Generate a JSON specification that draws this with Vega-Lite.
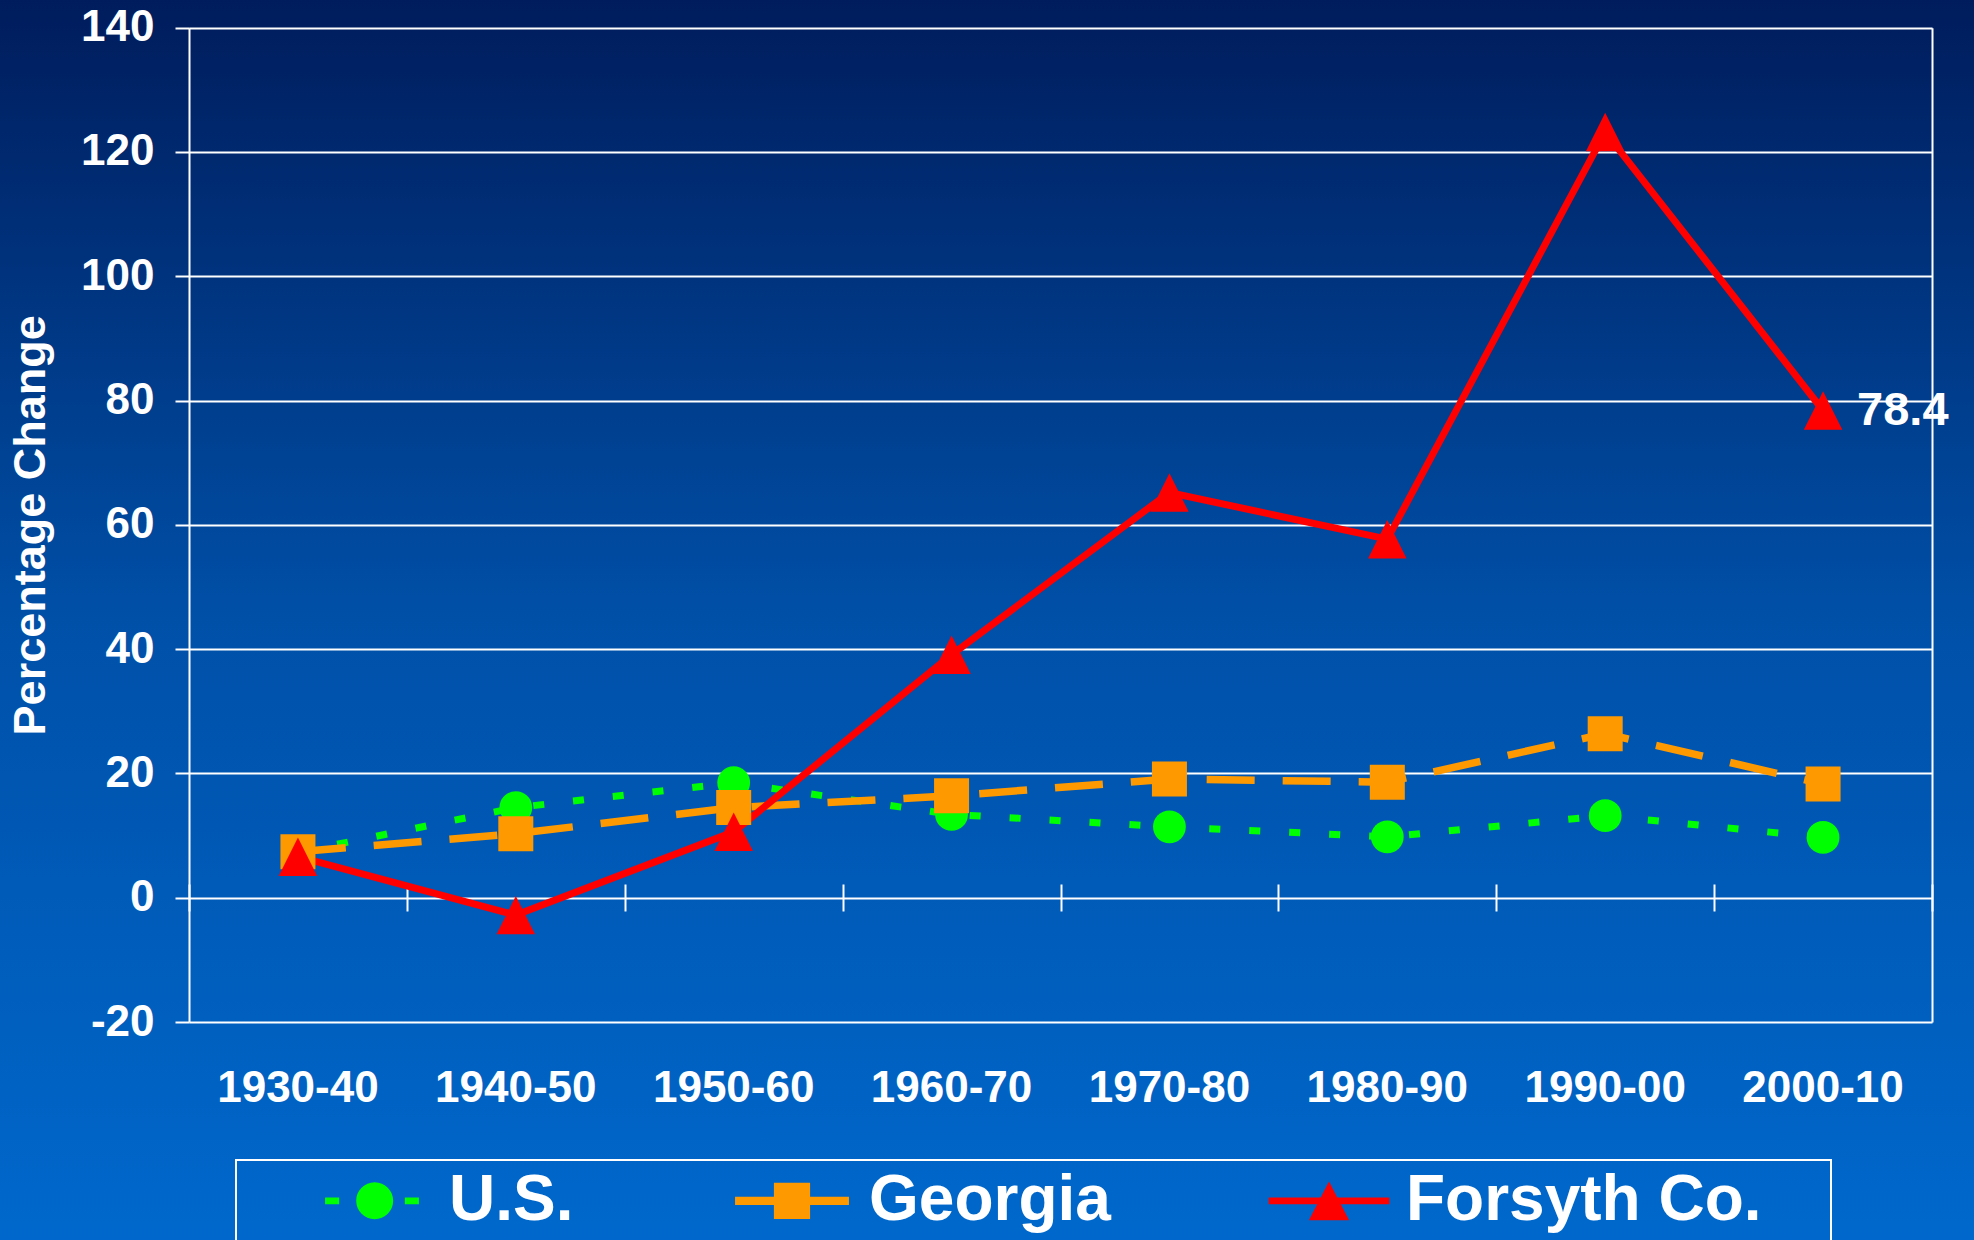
{
  "$schema": "https://vega.github.io/schema/vega-lite/v6.json",
  "width": 1974,
  "height": 1240,
  "padding": 0,
  "autosize": {"type": "none"},
  "background": "#0047a0",
  "view": {
    "fill": {"gradient": "linear", "x1": 0, "y1": 0, "x2": 0, "y2": 1,
      "stops": [{"offset": 0, "color": "#001c5c"}, {"offset": 0.5, "color": "#0050a8"}, {"offset": 1, "color": "#0068cc"}]},
    "stroke": null
  },
  "config": {"view": {"stroke": null}, "legend": {"strokeWidth": 2}},
  "data": {"values": [
    {"period": "1930-40", "series": "U.S.", "value": 7.3},
    {"period": "1940-50", "series": "U.S.", "value": 14.5},
    {"period": "1950-60", "series": "U.S.", "value": 18.5},
    {"period": "1960-70", "series": "U.S.", "value": 13.4},
    {"period": "1970-80", "series": "U.S.", "value": 11.4},
    {"period": "1980-90", "series": "U.S.", "value": 9.8},
    {"period": "1990-00", "series": "U.S.", "value": 13.2},
    {"period": "2000-10", "series": "U.S.", "value": 9.7},
    {"period": "1930-40", "series": "Georgia", "value": 7.4},
    {"period": "1940-50", "series": "Georgia", "value": 10.3},
    {"period": "1950-60", "series": "Georgia", "value": 14.5},
    {"period": "1960-70", "series": "Georgia", "value": 16.4},
    {"period": "1970-80", "series": "Georgia", "value": 19.1},
    {"period": "1980-90", "series": "Georgia", "value": 18.6},
    {"period": "1990-00", "series": "Georgia", "value": 26.4},
    {"period": "2000-10", "series": "Georgia", "value": 18.3},
    {"period": "1930-40", "series": "Forsyth Co.", "value": 6.6},
    {"period": "1940-50", "series": "Forsyth Co.", "value": -2.8},
    {"period": "1950-60", "series": "Forsyth Co.", "value": 10.6},
    {"period": "1960-70", "series": "Forsyth Co.", "value": 39.1},
    {"period": "1970-80", "series": "Forsyth Co.", "value": 65.2},
    {"period": "1980-90", "series": "Forsyth Co.", "value": 57.7},
    {"period": "1990-00", "series": "Forsyth Co.", "value": 123.2},
    {"period": "2000-10", "series": "Forsyth Co.", "value": 78.4}
  ]},
  "resolve": {"axis": {"x": "independent", "y": "independent"}},
  "layer": [
    {
      "transform": [{"filter": "datum.series === 'U.S.'"}],
      "mark": {"type": "line", "color": "#00ff00", "strokeWidth": 7, "strokeDash": [11, 29], "strokeCap": "butt"},
      "encoding": {
        "x": {"field": "period", "type": "nominal",
          "scale": {"type": "band", "range": [189, 1932], "paddingInner": 0, "paddingOuter": 0},
          "axis": {"orient": "bottom", "offset": -218, "domain": false, "ticks": false, "tickSize": 0, "labelPadding": 44, "labelAngle": 0,
            "labelFont": "Liberation Sans", "labelFontSize": 44, "labelFontWeight": "bold", "labelColor": "white", "labelOverlap": false,
            "title": null, "grid": false}},
        "y": {"field": "value", "type": "quantitative",
          "scale": {"domain": [-20, 140], "range": [1022, 27.7], "nice": false, "zero": false},
          "axis": {"orient": "left", "offset": -189, "values": [-20, 0, 20, 40, 60, 80, 100, 120, 140],
            "labelExpr": "datum.value + ''",
            "grid": true, "gridColor": "white", "gridWidth": 2, "gridOpacity": 1,
            "domain": true, "domainColor": "white", "domainWidth": 2,
            "ticks": true, "tickColor": "white", "tickWidth": 2, "tickSize": 14,
            "labelPadding": 21, "labelFont": "Liberation Sans", "labelFontSize": 44, "labelFontWeight": "bold", "labelColor": "white", "labelOverlap": false,
            "title": "Percentage Change", "titleFont": "Liberation Sans", "titleFontSize": 45, "titleFontWeight": "bold", "titleColor": "white", "titlePadding": 27}}
      }
    },
    {
      "transform": [{"filter": "datum.series === 'Georgia'"}],
      "mark": {"type": "line", "color": "#ff9900", "strokeWidth": 7.5, "strokeDash": [48, 28], "strokeCap": "butt"},
      "encoding": {
        "x": {"field": "period", "type": "nominal",
          "scale": {"type": "band", "range": [189, 1932], "paddingInner": 0, "paddingOuter": 0},
          "axis": {"orient": "bottom", "offset": -356, "domain": false, "ticks": true, "tickBand": "extent", "tickSize": 27, "tickWidth": 2, "tickColor": "white",
            "labels": false, "title": null, "grid": false}},
        "y": {"field": "value", "type": "quantitative",
          "scale": {"domain": [-20, 140], "range": [1022, 27.7], "nice": false, "zero": false},
          "axis": {"orient": "right", "offset": -42, "domain": true, "domainColor": "white", "domainWidth": 2, "ticks": false, "labels": false, "grid": false, "title": null}}
      }
    },
    {
      "transform": [{"filter": "datum.series === 'Forsyth Co.'"}],
      "mark": {"type": "line", "color": "#ff0000", "strokeWidth": 7},
      "encoding": {
        "x": {"field": "period", "type": "nominal", "axis": null},
        "y": {"field": "value", "type": "quantitative", "axis": null}
      }
    },
    {
      "transform": [{"filter": "datum.series === 'U.S.'"}],
      "mark": {"type": "point", "shape": "circle", "size": 1075, "filled": true, "color": "#00ff00", "opacity": 1, "strokeWidth": 0},
      "encoding": {
        "x": {"field": "period", "type": "nominal", "axis": null},
        "y": {"field": "value", "type": "quantitative", "axis": null}
      }
    },
    {
      "transform": [{"filter": "datum.series === 'Georgia'"}],
      "mark": {"type": "point", "shape": "square", "size": 1225, "filled": true, "color": "#ff9900", "opacity": 1, "strokeWidth": 0},
      "encoding": {
        "x": {"field": "period", "type": "nominal", "axis": null},
        "y": {"field": "value", "type": "quantitative", "axis": null}
      }
    },
    {
      "transform": [{"filter": "datum.series === 'Forsyth Co.'"}],
      "mark": {"type": "point", "shape": "M0,-1L1,1L-1,1Z", "size": 1480, "filled": true, "color": "#ff0000", "opacity": 1, "strokeWidth": 0},
      "encoding": {
        "x": {"field": "period", "type": "nominal", "axis": null},
        "y": {"field": "value", "type": "quantitative", "axis": null}
      }
    },
    {
      "transform": [{"filter": "datum.period === '2000-10'"}],
      "mark": {"type": "point", "filled": true, "opacity": 0, "strokeWidth": 0, "size": 17956},
      "encoding": {
        "x": {"field": "period", "type": "nominal", "axis": null},
        "y": {"field": "value", "type": "quantitative", "axis": null},
        "shape": {"field": "series", "type": "nominal",
          "scale": {"domain": ["U.S.", "Georgia", "Forsyth Co."],
            "range": [
              "M-0.70,-1.472H-0.49V-1.368H-0.70Z M0.49,-1.472H0.70V-1.368H0.49Z M0.316,-1.42C0.316,-1.2675 0.1925,-1.144 0.04,-1.144C-0.1125,-1.144 -0.236,-1.2675 -0.236,-1.42C-0.236,-1.5725 -0.1125,-1.696 0.04,-1.696C0.1925,-1.696 0.316,-1.5725 0.316,-1.42Z",
              "M-0.85,-1.48H0.85V-1.36H-0.85Z M-0.27,-1.69H0.27V-1.15H-0.27Z",
              "M-0.9,-1.472H0.9V-1.368H-0.9Z M0,-1.71L0.3,-1.13H-0.3Z"
            ]},
          "legend": {
            "orient": "none", "legendX": 236, "legendY": 1160, "direction": "horizontal", "title": null,
            "labelFont": "Liberation Sans", "labelFontWeight": "bold", "labelFontSize": 64, "labelColor": "white",
            "labelOffset": 10, "labelLimit": 800,
            "symbolSize": 17956, "symbolStrokeWidth": 0, "symbolOpacity": 1,
            "columnPadding": 151, "padding": 69, "strokeColor": "white",
            "encode": {
              "symbols": {"update": {"opacity": {"value": 1}, "strokeWidth": {"value": 0}}},
              "labels": {"update": {"dy": {"value": -95}}}
            }
          }},
        "color": {"field": "series", "type": "nominal",
          "scale": {"domain": ["U.S.", "Georgia", "Forsyth Co."], "range": ["#00ff00", "#ff9900", "#ff0000"]},
          "legend": {
            "orient": "none", "legendX": 236, "legendY": 1160, "direction": "horizontal", "title": null,
            "labelFont": "Liberation Sans", "labelFontWeight": "bold", "labelFontSize": 64, "labelColor": "white",
            "labelOffset": 10, "labelLimit": 800,
            "symbolSize": 17956, "symbolStrokeWidth": 0, "symbolOpacity": 1,
            "columnPadding": 151, "padding": 69, "strokeColor": "white",
            "encode": {
              "symbols": {"update": {"opacity": {"value": 1}, "strokeWidth": {"value": 0}}},
              "labels": {"update": {"dy": {"value": -95}}}
            }
          }}
      }
    },
    {
      "transform": [{"filter": "datum.series === 'Forsyth Co.' && datum.period === '2000-10'"}],
      "mark": {"type": "text", "align": "left", "baseline": "middle", "dx": 34, "font": "Liberation Sans", "fontSize": 47, "fontWeight": "bold", "color": "white"},
      "encoding": {
        "x": {"field": "period", "type": "nominal", "axis": null},
        "y": {"field": "value", "type": "quantitative", "axis": null},
        "text": {"field": "value", "type": "quantitative", "format": ".1f"}
      }
    }
  ]
}
